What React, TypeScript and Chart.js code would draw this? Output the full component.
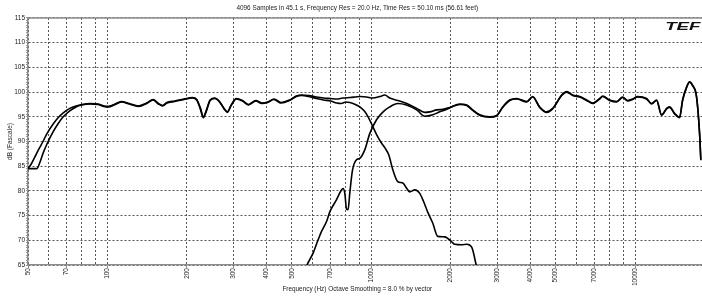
import React, { useEffect, useRef } from "react";
import { Chart, registerables } from "chart.js";

Chart.register(...registerables);

const FONT = "'Liberation Sans', Arial, sans-serif";
const TEXT = "#222";

const chartTitle = "4096 Samples in 45.1 s, Frequency Res = 20.0 Hz, Time Res = 50.10 ms (56.61 feet)";
const xTitle = "Frequency (Hz) Octave Smoothing = 8.0 % by vector";
const yTitle = "dB (Fascale)";

const xGridTicks = [50, 60, 70, 80, 90, 100, 200, 300, 400, 500, 600, 700, 800, 900, 1000, 2000, 3000, 4000, 5000, 6000, 7000, 8000, 9000, 10000, 20000];
const xLabelTicks = [50, 70, 100, 200, 300, 400, 500, 700, 1000, 2000, 3000, 4000, 5000, 7000, 10000, 20000];

// System (sum) response
const sumFreq = [50, 51.5, 53, 55, 57, 59, 62, 65, 68, 72, 76, 80, 86, 92, 97, 101, 106, 113, 121, 131, 141, 149, 156, 162, 168, 180, 195, 210, 218, 225, 231, 237, 245, 255, 266, 276, 285, 294, 308, 325, 343, 365, 385, 405, 428, 455, 490, 520, 545, 580, 620, 660, 700, 740, 780, 830, 870, 910, 960, 1013, 1077, 1125, 1175, 1260, 1363, 1487, 1596, 1666, 1771, 1866, 1984, 2164, 2301, 2424, 2577, 2812, 2989, 3149, 3347, 3558, 3884, 4092, 4349, 4623, 4870, 5270, 5505, 5800, 6166, 6552, 6904, 7339, 7534, 8008, 8511, 8971, 9370, 9787, 10222, 11053, 11549, 12066, 12601, 13168, 13515, 14119, 14746, 15138, 15671, 16090, 16517, 17100, 17558, 17750];
const sumDb = [84.5, 85.5, 86.8, 88.5, 90.0, 91.6, 93.4, 94.8, 95.8, 96.7, 97.2, 97.5, 97.7, 97.6, 97.2, 97.1, 97.5, 98.1, 97.7, 97.2, 97.8, 98.5, 97.7, 97.3, 97.9, 98.2, 98.6, 98.9, 98.5, 96.8, 95.0, 96.3, 98.4, 98.8, 98.1, 96.8, 96.0, 97.3, 98.7, 98.3, 97.5, 98.3, 97.8, 98.0, 98.6, 97.9, 98.4, 99.2, 99.4, 99.3, 99.0, 98.8, 98.7, 98.6, 98.8, 98.9, 99.0, 99.1, 99.0, 98.8, 99.1, 99.4, 98.8, 98.3, 97.7, 96.7, 95.9, 96.0, 96.4, 96.5, 96.9, 97.6, 97.4, 96.4, 95.4, 95.0, 95.3, 97.0, 98.4, 98.7, 98.1, 99.1, 97.0, 96.0, 96.7, 99.4, 100.1, 99.4, 99.1, 98.4, 97.8, 98.7, 99.2, 98.4, 98.1, 99.0, 98.3, 98.6, 99.1, 98.7, 97.7, 98.4, 95.4, 96.7, 97.0, 95.7, 94.9, 98.4, 101.0, 102.1, 101.4, 99.1, 91.7, 86.3];

// Woofer (low-pass) response
const wooferFreq = [50, 54, 55.5, 57, 59, 62, 65, 68, 72, 76, 80, 86, 92, 97, 101, 106, 113, 121, 131, 141, 149, 156, 162, 168, 180, 195, 210, 218, 225, 231, 237, 245, 255, 266, 276, 285, 294, 308, 325, 343, 365, 385, 405, 428, 455, 490, 520, 545, 580, 620, 660, 700, 740, 770, 800, 830, 870, 905, 940, 975, 1010, 1050, 1090, 1130, 1165, 1207, 1260, 1317, 1360, 1399, 1462, 1527, 1580, 1637, 1710, 1786, 1899, 2018, 2072, 2200, 2301, 2403, 2489, 2530];
const wooferDb = [84.5, 84.5, 85.8, 87.6, 89.5, 91.8, 93.6, 95.0, 96.2, 97.0, 97.4, 97.6, 97.5, 97.1, 97.0, 97.4, 98.0, 97.6, 97.1, 97.7, 98.4, 97.6, 97.2, 97.8, 98.1, 98.5, 98.8, 98.4, 96.6, 94.8, 96.1, 98.3, 98.7, 98.0, 96.7, 95.9, 97.2, 98.6, 98.2, 97.4, 98.2, 97.7, 97.9, 98.5, 97.8, 98.3, 99.1, 99.3, 99.1, 98.7, 98.4, 98.2, 97.8, 97.7, 98.0, 97.9, 97.5, 97.0, 96.2, 94.9, 93.2, 91.3, 89.8, 88.6, 87.3, 84.3, 81.9, 81.6, 80.6, 79.8, 80.2, 79.5, 77.8, 75.7, 73.5, 70.8, 70.7, 69.7, 69.2, 69.1, 69.2, 68.6, 65.4, 63.5];

// Tweeter (high-pass) response
const tweeterFreq = [550, 571, 602, 629, 648, 677, 697, 738, 771, 782, 794, 806, 817, 829, 849, 879, 905, 945, 987, 1047, 1109, 1175, 1260, 1360, 1487, 1596, 1710, 1818, 1932, 2036, 2164, 2301, 2424, 2577, 2812, 2989, 3149, 3347, 3558, 3884, 4092, 4349, 4623, 4870, 5270, 5505, 5800, 6166, 6552, 6904, 7339, 7534, 8008, 8511, 8971, 9370, 9787, 10222, 11053, 11549, 12066, 12601, 13168, 13515, 14119, 14746, 15138, 15671, 16090, 16517, 17100, 17558, 17750];
const tweeterDb = [62.5, 65.0, 67.4, 70.1, 71.8, 73.8, 75.8, 78.2, 80.2, 80.5, 79.5, 76.3, 76.2, 79.5, 84.2, 86.3, 86.6, 88.3, 91.6, 94.4, 96.0, 97.0, 97.7, 97.4, 96.4, 95.1, 95.4, 96.0, 96.5, 97.1, 97.5, 97.3, 96.3, 95.3, 94.9, 95.2, 96.9, 98.3, 98.6, 98.0, 99.0, 96.9, 95.9, 96.6, 99.3, 100.0, 99.3, 99.0, 98.3, 97.7, 98.6, 99.1, 98.3, 98.0, 98.9, 98.2, 98.5, 99.0, 98.6, 97.6, 98.3, 95.3, 96.6, 96.9, 95.6, 94.8, 98.3, 100.9, 102.0, 101.3, 99.0, 91.6, 86.2];

const toPoints = (xs: number[], ys: number[]) => xs.map((x, i) => ({ x, y: ys[i] }));

const framePlugin = {
  id: "topFrame",
  afterDraw(chart: any) {
    const { ctx, chartArea } = chart;
    ctx.save();
    ctx.strokeStyle = "#8c8c8c";
    ctx.lineWidth = 1.5;
    ctx.beginPath();
    ctx.moveTo(chartArea.left, chartArea.top);
    ctx.lineTo(chartArea.right, chartArea.top);
    ctx.stroke();
    // TEF logo
    const lx = chartArea.right - 14;
    const ly = chartArea.top + 3;
    ctx.translate(lx, ly);
    ctx.scale(1.7, 1);
    ctx.font = `italic bold 11px ${FONT}`;
    ctx.textAlign = "right";
    ctx.textBaseline = "top";
    ctx.fillStyle = "#111";
    ctx.fillText("TEF", 0, 0);
    ctx.restore();
  },
};

export default function App() {
  const ref = useRef<HTMLCanvasElement | null>(null);

  useEffect(() => {
    if (!ref.current) return;
    const lineStyle = {
      borderColor: "#000",
      borderWidth: 1.6,
      pointRadius: 0,
      fill: false,
      cubicInterpolationMode: "monotone" as const,
      clip: 0,
    };
    const chart = new Chart(ref.current, {
      type: "line",
      data: {
        datasets: [
          { label: "Sum", data: toPoints(sumFreq, sumDb), ...lineStyle },
          { label: "Woofer", data: toPoints(wooferFreq, wooferDb), ...lineStyle },
          { label: "Tweeter", data: toPoints(tweeterFreq, tweeterDb), ...lineStyle },
        ],
      },
      options: {
        responsive: false,
        animation: false,
        layout: { padding: { left: 0, right: 15.5, top: 0, bottom: 0 } },
        plugins: {
          legend: { display: false },
          tooltip: { enabled: false },
          title: {
            display: true,
            text: chartTitle,
            color: TEXT,
            font: { family: FONT, size: 6.4, weight: "normal" },
            padding: { top: 4.3, bottom: 6 },
          },
          subtitle: {
            display: true,
            position: "bottom",
            text: xTitle,
            color: TEXT,
            font: { family: FONT, size: 6.4, weight: "normal" },
            padding: { top: 0, bottom: 3 },
          },
        },
        scales: {
          x: {
            type: "logarithmic",
            min: 50,
            max: 20000,
            afterBuildTicks: (scale: any) => {
              scale.ticks = xGridTicks.map((v) => ({ value: v }));
            },
            afterFit: (scale: any) => {
              scale.height = 20.3;
            },
            ticks: {
              autoSkip: false,
              minRotation: 90,
              maxRotation: 90,
              padding: 0,
              color: TEXT,
              font: { family: FONT, size: 6.5 },
              callback: (v: any) => (xLabelTicks.includes(Number(v)) ? String(v) : ""),
            },
            grid: {
              color: "#555",
              lineWidth: 1,
              drawTicks: true,
              tickLength: 3,
              tickColor: (ctx: any) => (ctx.tick && xLabelTicks.includes(ctx.tick.value) ? "#888" : "rgba(0,0,0,0)"),
            },
            border: { display: true, color: "#8c8c8c", width: 1.5, dash: [2, 2] },
          },
          y: {
            min: 65,
            max: 115,
            afterFit: (scale: any) => {
              scale.width = 28;
            },
            ticks: {
              stepSize: 0.5,
              autoSkip: false,
              padding: 1,
              color: TEXT,
              font: { family: FONT, size: 6.5 },
              callback: (v: any) => (Number(v) % 5 === 0 ? String(v) : ""),
            },
            grid: {
              color: (ctx: any) => (ctx.tick && ctx.tick.value % 5 === 0 ? "#555" : "rgba(0,0,0,0)"),
              lineWidth: 1,
              drawTicks: true,
              tickLength: 2,
              tickColor: "#999",
            },
            border: { display: true, color: "#8c8c8c", width: 1.5, dash: [2, 2] },
            title: {
              display: true,
              text: yTitle,
              color: TEXT,
              font: { family: FONT, size: 6.5 },
              padding: { top: 6, bottom: 0 },
            },
          },
        },
      },
      plugins: [framePlugin],
    });
    return () => chart.destroy();
  }, []);

  return (
    <div style={{ position: "fixed", left: 0, top: 0, width: 702, height: 296, overflow: "hidden", background: "#fff" }}>
      <canvas ref={ref} width={730} height={296} style={{ display: "block" }} />
    </div>
  );
}
